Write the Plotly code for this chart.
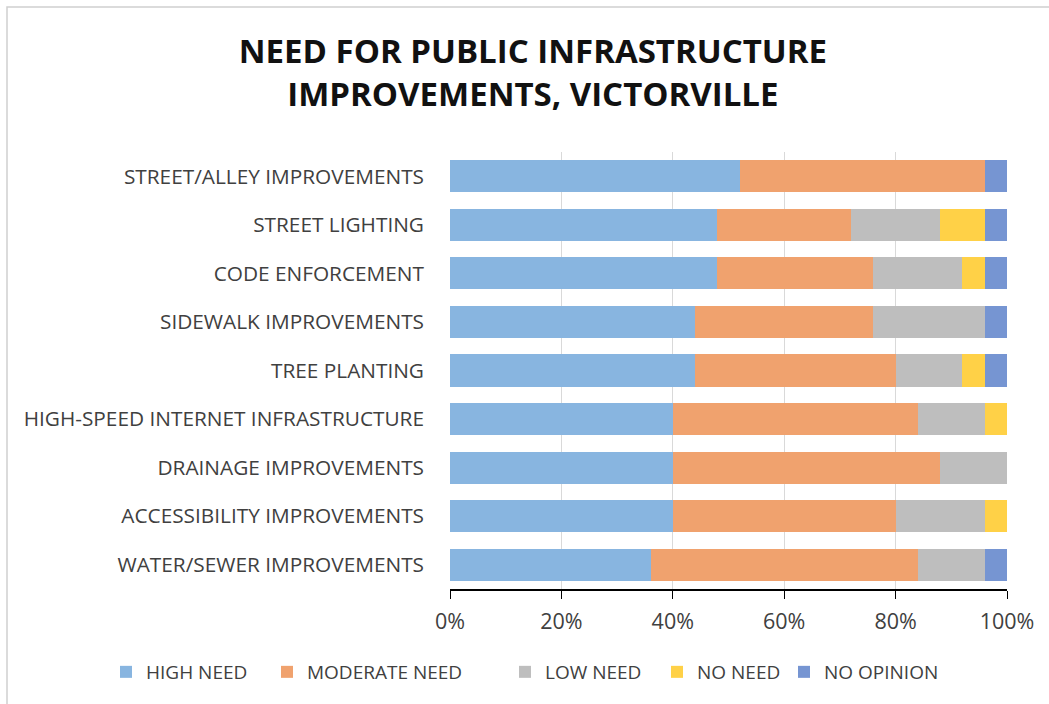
import plotly.graph_objects as go

# Survey categories, listed top to bottom as displayed
categories = [
    "STREET/ALLEY IMPROVEMENTS",
    "STREET LIGHTING",
    "CODE ENFORCEMENT",
    "SIDEWALK IMPROVEMENTS",
    "TREE PLANTING",
    "HIGH-SPEED INTERNET INFRASTRUCTURE",
    "DRAINAGE IMPROVEMENTS",
    "ACCESSIBILITY IMPROVEMENTS",
    "WATER/SEWER IMPROVEMENTS",
]

# Share of responses (%) per category
high_need = [52, 48, 48, 44, 44, 40, 40, 40, 36]
moderate_need = [44, 24, 28, 32, 36, 44, 48, 40, 48]
low_need = [0, 16, 16, 20, 12, 12, 12, 16, 12]
no_need = [0, 8, 4, 0, 4, 4, 0, 4, 0]
no_opinion = [4, 4, 4, 4, 4, 0, 0, 0, 4]

series_names = ["HIGH NEED", "MODERATE NEED", "LOW NEED", "NO NEED", "NO OPINION"]
series_values = [high_need, moderate_need, low_need, no_need, no_opinion]
series_colors = ["#88B5E0", "#F0A26E", "#BEBEBE", "#FFD147", "#7695D2"]

x_ticks = [0, 20, 40, 60, 80, 100]
x_tick_labels = ["0%", "20%", "40%", "60%", "80%", "100%"]

FONT = "Open Sans"
W, H = 1049, 704
M_L, M_R, M_T, M_B = 450, 42, 152, 115

# Left edge (px) of each legend entry along the bottom row
legend_left_px = [106, 267, 505, 657, 784]
LEGEND_Y_PX = 672

# Paper-coordinate helpers (paper spans the plot area)
pw = W - M_L - M_R
ph = H - M_T - M_B


def px_x(px):
    return (px - M_L) / pw


def px_y(py):
    return (H - M_B - py) / ph


fig = go.Figure()
legend_layouts = {}
for i, (name, vals, color) in enumerate(zip(series_names, series_values, series_colors)):
    legend_id = "legend" if i == 0 else f"legend{i + 1}"
    fig.add_trace(go.Bar(
        y=categories,
        x=vals,
        name=name,
        orientation="h",
        legend=legend_id,
        marker=dict(color=color, line=dict(width=0)),
        hovertemplate="%{y}: %{x}%<extra>" + name + "</extra>",
    ))
    legend_layouts[legend_id] = dict(
        orientation="h",
        x=px_x(legend_left_px[i]), xanchor="left", xref="paper",
        y=px_y(LEGEND_Y_PX), yanchor="middle", yref="paper",
        font=dict(family=FONT, size=19, color="#404040"),
        itemwidth=30,
        bgcolor="rgba(0,0,0,0)",
    )

# Thin grey frame around the whole chart
fig.add_shape(type="rect", xref="paper", yref="paper",
              x0=px_x(7), x1=px_x(W + 5), y0=px_y(H + 5), y1=px_y(7),
              line=dict(color="#D0D0D0", width=1.5), fillcolor="rgba(0,0,0,0)",
              layer="below")

fig.update_layout(
    width=W, height=H,
    barmode="stack",
    bargap=0.34,
    paper_bgcolor="white",
    plot_bgcolor="white",
    margin=dict(l=M_L, r=M_R, t=M_T, b=M_B, pad=0, autoexpand=False),
    title=dict(
        text="<b>NEED FOR PUBLIC INFRASTRUCTURE<br>IMPROVEMENTS, VICTORVILLE</b>",
        x=0.508, xanchor="center", xref="container",
        y=0.91, yanchor="middle", yref="container",
        font=dict(family=FONT, size=33, color="#111111"),
    ),
    font=dict(family=FONT, size=20, color="#404040"),
    xaxis=dict(
        range=[0, 100],
        tickvals=x_ticks,
        ticktext=x_tick_labels,
        showgrid=True,
        gridcolor="#D9D9D9",
        gridwidth=1,
        zeroline=False,
        showline=True,
        linecolor="#000000",
        linewidth=1.5,
        ticks="outside",
        ticklen=8,
        tickcolor="#000000",
        ticklabelstandoff=4,
        tickfont=dict(family=FONT, size=21.5, color="#404040"),
        fixedrange=True,
    ),
    yaxis=dict(
        categoryorder="array",
        categoryarray=categories[::-1],
        showgrid=False,
        zeroline=False,
        showline=False,
        ticks="",
        ticklabelstandoff=25,
        tickfont=dict(family=FONT, size=20.8, color="#404040"),
        fixedrange=True,
    ),
    showlegend=True,
    **legend_layouts,
)

fig.write_html("out.html")
